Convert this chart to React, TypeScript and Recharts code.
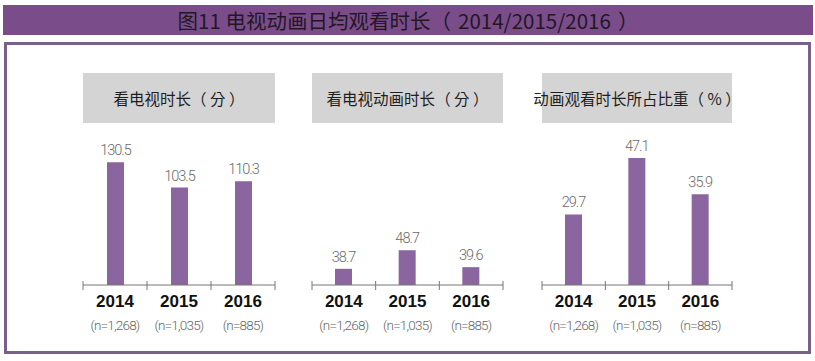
import React from 'react';
import { BarChart, Bar, XAxis, YAxis, LabelList } from 'recharts';

const years = ['2014', '2015', '2016'];
const sampleSizes = ['(n=1,268)', '(n=1,035)', '(n=885)'];
const tvMinutes = [130.5, 103.5, 110.3];
const animationMinutes = [38.7, 48.7, 39.6];
const animationShare = [29.7, 47.1, 35.9];
const panelTitles = ['看电视时长（分）', '看电视动画时长（分）', '动画观看时长所占比重（%）'];
const chartTitle = '图11 电视动画日均观看时长（2014/2015/2016）';

const BAR_COLOR = '#8a659f';
const CJK = '"Noto Sans CJK TC", "Noto Sans CJK SC", "Noto Sans", sans-serif';

const makeRows = (values: number[]) =>
  years.map((y, i) => ({ year: y, n: sampleSizes[i], value: values[i] }));

const panels = [
  { title: panelTitles[0], values: tvMinutes, domain: [0, 154], left: 83, width: 192 },
  { title: panelTitles[1], values: animationMinutes, domain: [30, 108], left: 312, width: 191 },
  { title: panelTitles[2], values: animationShare, domain: [8, 52.6], left: 542, width: 190 },
];

// Render full-width parentheses with the inner spacing seen in the reference
const SpacedText = ({ text, inner }: { text: string; inner: string }) => (
  <>
    {Array.from(text).map((ch, i) =>
      ch === '（' ? (
        <span key={i} style={{ marginRight: inner }}>{ch}</span>
      ) : ch === '）' ? (
        <span key={i} style={{ marginLeft: inner }}>{ch}</span>
      ) : (
        <React.Fragment key={i}>{ch}</React.Fragment>
      )
    )}
  </>
);

const YearTick = (props: any) => {
  const { x, y, payload, index, visibleTicksCount, width } = props;
  const band = width / visibleTicksCount;
  const n = sampleSizes[index];
  return (
    <g>
      <line x1={x - band / 2} x2={x - band / 2} y1={y - 4} y2={y + 5} stroke="#777" strokeWidth={1} />
      {index === visibleTicksCount - 1 && (
        <line x1={x + band / 2} x2={x + band / 2} y1={y - 4} y2={y + 5} stroke="#777" strokeWidth={1} />
      )}
      <text
        x={x}
        y={y + 22}
        textAnchor="middle"
        fontFamily='"Liberation Sans", Arial, sans-serif'
        fontWeight={700}
        fontSize={17}
        fill="#111"
      >
        {payload.value}
      </text>
      <text
        x={x}
        y={y + 45}
        textAnchor="middle"
        fontFamily="Roboto, sans-serif"
        fontWeight={300}
        fontSize={13.5}
        letterSpacing={-0.8}
        fill="#666"
      >
        {n}
      </text>
    </g>
  );
};

const Panel = ({ p }: { p: (typeof panels)[number] }) => {
  const data = makeRows(p.values);
  const pad = 20;
  return (
    <>
      <div
        style={{
          position: 'absolute',
          left: p.left,
          top: 73,
          width: p.width,
          height: 50,
          background: '#d4d4d4',
          display: 'flex',
          alignItems: 'center',
          justifyContent: 'center',
          whiteSpace: 'nowrap',
          fontFamily: CJK,
          fontSize: 15.5,
          fontWeight: 400,
          color: '#1e1e1e',
        }}
      >
        <span>
          <SpacedText text={p.title} inner="0.22em" />
        </span>
      </div>
      <div style={{ position: 'absolute', left: p.left - pad, top: 125 }}>
        <BarChart
          width={p.width + pad * 2}
          height={230}
          data={data}
          margin={{ top: 15, right: pad, bottom: 0, left: pad }}
        >
          <XAxis
            dataKey="year"
            height={70}
            axisLine={{ stroke: '#777', strokeWidth: 1 }}
            tickLine={false}
            tickSize={0}
            tickMargin={0}
            tick={<YearTick />}
            interval={0}
          />
          <YAxis hide domain={p.domain} allowDataOverflow type="number" />
          <Bar dataKey="value" fill={BAR_COLOR} barSize={17} isAnimationActive={false}>
            <LabelList
              dataKey="value"
              position="top"
              offset={7}
              fill="#6a6a6a"
              fontSize={14.5}
              fontFamily="Roboto, sans-serif"
              fontWeight={300}
              letterSpacing={-1}
            />
          </Bar>
        </BarChart>
      </div>
    </>
  );
};

export default function App() {
  return (
    <div
      style={{
        position: 'absolute',
        left: 0,
        top: 0,
        width: 815,
        height: 361,
        background: '#fff',
        overflow: 'hidden',
      }}
    >
      <div
        style={{
          position: 'absolute',
          left: 3,
          top: 5,
          width: 810,
          height: 30,
          background: '#7a4d8a',
          display: 'flex',
          alignItems: 'center',
          justifyContent: 'center',
          fontFamily: CJK,
          fontSize: 20.5,
          fontWeight: 400,
          color: '#211824',
          whiteSpace: 'nowrap',
        }}
      >
        <span>
          <SpacedText text={chartTitle} inner="0.35em" />
        </span>
      </div>
      <div
        style={{
          position: 'absolute',
          left: 4,
          top: 42,
          width: 807,
          height: 312,
          boxSizing: 'border-box',
          border: '3px solid #78608c',
        }}
      />
      {panels.map((p) => (
        <Panel key={p.title} p={p} />
      ))}
    </div>
  );
}
